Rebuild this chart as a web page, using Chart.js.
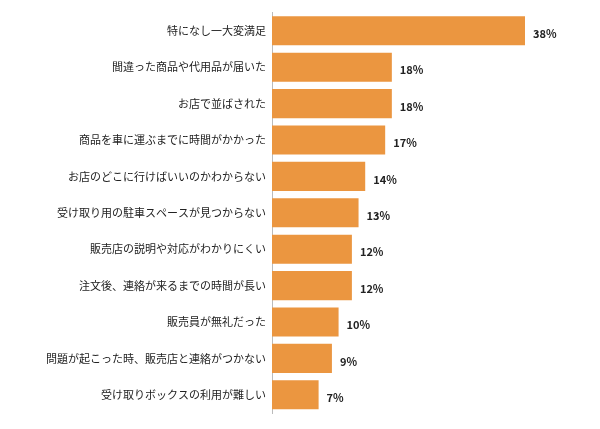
<!DOCTYPE html>
<html><head><meta charset="utf-8">
<script src="https://cdn.jsdelivr.net/npm/chart.js@4"></script>
<style>html,body{margin:0;background:#fff}#w{width:600px;height:429px}</style>
</head><body><div id="w"><canvas id="c"></canvas></div>
<script>
const categories = [
  "特になし一大変満足",
  "間違った商品や代用品が届いた",
  "お店で並ばされた",
  "商品を車に運ぶまでに時間がかかった",
  "お店のどこに行けばいいのかわからない",
  "受け取り用の駐車スペースが見つからない",
  "販売店の説明や対応がわかりにくい",
  "注文後、連絡が来るまでの時間が長い",
  "販売員が無礼だった",
  "問題が起こった時、販売店と連絡がつかない",
  "受け取りボックスの利用が難しい"
];
const values = [38, 18, 18, 17, 14, 13, 12, 12, 10, 9, 7];

// 棒の右に % を描く
const valueLabels = {
  id: "valueLabels",
  afterDatasetsDraw(chart) {
    const ctx = chart.ctx;
    ctx.save();
    ctx.font = "bold 11px 'Noto Sans CJK JP', sans-serif";
    ctx.fillStyle = "#222";
    ctx.textBaseline = "middle";
    chart.getDatasetMeta(0).data.forEach((bar, i) => {
      ctx.fillText(values[i] + "%", bar.x + 8, bar.y + 3);
    });
    ctx.restore();
  }
};

new Chart(document.getElementById("c"), {
  type: "bar",
  data: {
    labels: categories,
    datasets: [{
      data: values,
      backgroundColor: "#EB9640",
      categoryPercentage: 0.8,
      barPercentage: 1
    }]
  },
  options: {
    indexAxis: "y",
    responsive: true,
    maintainAspectRatio: false,
    animation: false,
    layout: { padding: { top: 12, right: 75, bottom: 16, left: 0 } },
    scales: {
      x: { display: false, min: 0, max: 38 },
      y: {
        grid: { display: false, drawTicks: false },
        border: { color: "#bbb", width: 1 },
        ticks: { color: "#222", padding: 6, font: { size: 11, family: "'Noto Sans CJK JP', sans-serif" } },
        afterFit(s) { s.width = 272; }
      }
    },
    plugins: { legend: { display: false }, tooltip: { enabled: false } }
  },
  plugins: [valueLabels]
});
</script></body></html>
